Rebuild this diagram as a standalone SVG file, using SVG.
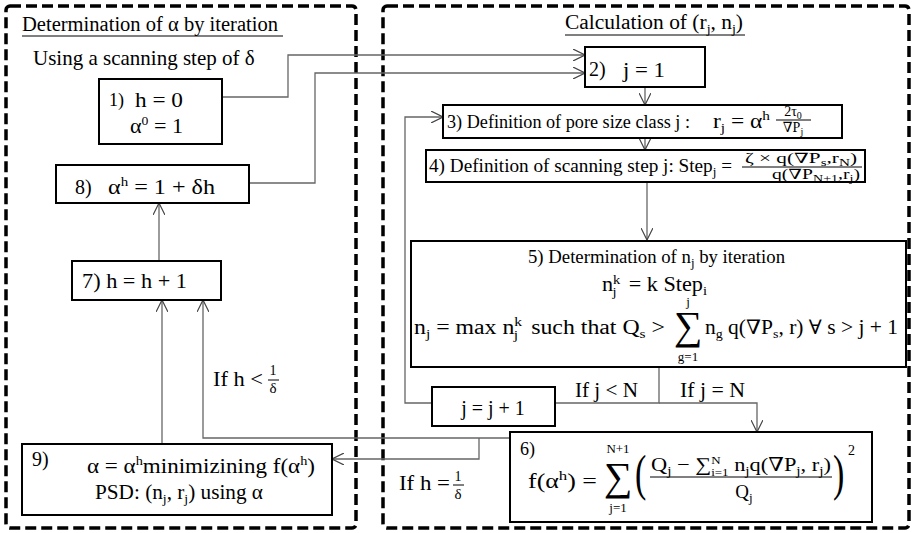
<svg xmlns="http://www.w3.org/2000/svg" width="913" height="533" viewBox="0 0 913 533" font-family="'Liberation Serif', 'DejaVu Serif', serif">
<style>
  text { font-family: 'Liberation Serif', 'DejaVu Serif', serif; fill: #000; }
  .t { font-size: 20px; }
  .m { font-size: 19px; }
  .s { font-size: 13px; }
  .f { font-size: 14px; }
  .ss { font-size: 10px; }
  .frame { fill: none; stroke: #000; stroke-width: 3.5; stroke-dasharray: 11 5; }
  .box { fill: #fff; stroke: #000; stroke-width: 2; }
  .conn { fill: none; stroke: #666; stroke-width: 1.3; }
  .ul { stroke: #000; stroke-width: 1; }
  .bar { stroke: #000; stroke-width: 1; }
</style>
<defs>
  <marker id="arr" viewBox="0 0 12 12" refX="12" refY="6" markerWidth="12" markerHeight="12" markerUnits="userSpaceOnUse" orient="auto">
    <path d="M0,0 L12,6 L0,12" fill="none" stroke="#444" stroke-width="1.2"/>
  </marker>
</defs>
<rect width="913" height="533" fill="#fff"/>

<!-- Frames -->
<g id="frame-left">
  <rect class="frame" x="6" y="6" width="350" height="522" rx="4"/>
  <text class="t" x="22" y="31" textLength="256" lengthAdjust="spacingAndGlyphs">Determination of α by iteration</text>
  <line class="ul" x1="22" y1="36" x2="283" y2="36"/>
  <text class="t" x="33" y="65" style="font-size:21px">Using a scanning step of δ</text>
</g>
<g id="frame-right">
  <rect class="frame" x="383" y="6" width="526" height="522" rx="4"/>
  <text class="t" x="565" y="29" textLength="178" lengthAdjust="spacingAndGlyphs">Calculation of (r<tspan class="s" dy="4">j</tspan><tspan dy="-4">, n</tspan><tspan class="s" dy="4">j</tspan><tspan dy="-4">)</tspan></text>
  <line class="ul" x1="565" y1="35" x2="745" y2="35"/>
</g>

<!-- Connectors -->
<g id="connectors">
  <path class="conn" d="M222,97 H288 V55 H585" marker-end="url(#arr)"/>
  <path class="conn" d="M249,183 H315 V73 H585" marker-end="url(#arr)"/>
  <path class="conn" d="M645,87 V105" marker-end="url(#arr)"/>
  <path class="conn" d="M645,138 V150" marker-end="url(#arr)"/>
  <path class="conn" d="M647,182 V240" marker-end="url(#arr)"/>
  <path class="conn" d="M659,367 V403 H555"/>
  <path class="conn" d="M659,403 H757 V432" marker-end="url(#arr)"/>
  <path class="conn" d="M432,403 H405 V117 H443" marker-end="url(#arr)"/>
  <path class="conn" d="M510,438 H203 V300" marker-end="url(#arr)"/>
  <path class="conn" d="M479,438 V459 H332" marker-end="url(#arr)"/>
  <path class="conn" d="M162,444 V300" marker-end="url(#arr)"/>
  <path class="conn" d="M159,261 V203" marker-end="url(#arr)"/>
  <text class="t" x="575" y="397" textLength="63" lengthAdjust="spacingAndGlyphs">If j &lt; N</text>
  <text class="t" x="680" y="397" textLength="65" lengthAdjust="spacingAndGlyphs">If j = N</text>
  <text class="t" x="213" y="386" textLength="50" lengthAdjust="spacingAndGlyphs">If h &lt;</text>
  <text class="f" x="273" y="375" text-anchor="middle">1</text>
  <line class="bar" x1="268" y1="380" x2="279" y2="380"/>
  <text x="273" y="393" text-anchor="middle" style="font-size:15px">δ</text>
  <text class="t" x="399" y="490" textLength="51" lengthAdjust="spacingAndGlyphs">If h =</text>
  <text class="f" x="458" y="481" text-anchor="middle">1</text>
  <line class="bar" x1="453" y1="485" x2="464" y2="485"/>
  <text x="458" y="499" text-anchor="middle" style="font-size:15px">δ</text>
</g>

<!-- Nodes -->
<g id="n1">
  <rect class="box" x="99" y="79" width="123" height="65"/>
  <text x="109" y="106" style="font-size:18px">1)</text>
  <text class="t" x="135" y="107" style="font-size:21px" textLength="48" lengthAdjust="spacingAndGlyphs">h = 0</text>
  <text class="t" x="130" y="133" style="font-size:21px" textLength="53" lengthAdjust="spacingAndGlyphs">α<tspan class="s" dy="-8">0</tspan><tspan dy="8"> = 1</tspan></text>
</g>
<g id="n8">
  <rect class="box" x="56" y="165" width="193" height="38"/>
  <text class="t" x="75" y="194">8)</text>
  <text class="t" x="108" y="194" style="font-size:21px" textLength="107" lengthAdjust="spacingAndGlyphs">α<tspan class="s" dy="-8">h</tspan><tspan dy="8"> = 1 + δh</tspan></text>
</g>
<g id="n7">
  <rect class="box" x="72" y="261" width="149" height="39"/>
  <text class="t" x="82" y="288" textLength="105" lengthAdjust="spacingAndGlyphs">7) h = h + 1</text>
</g>
<g id="n9">
  <rect class="box" x="22" y="444" width="310" height="71"/>
  <text class="t" x="32" y="466">9)</text>
  <text class="t" x="87" y="473" style="font-size:21px" textLength="228" lengthAdjust="spacingAndGlyphs">α = α<tspan class="s" dy="-8">h</tspan><tspan dy="8">minimizining f(α</tspan><tspan class="s" dy="-8">h</tspan><tspan dy="8">)</tspan></text>
  <text class="t" x="95" y="499" textLength="168" lengthAdjust="spacingAndGlyphs">PSD: (n<tspan class="s" dy="4">j</tspan><tspan dy="-4">, r</tspan><tspan class="s" dy="4">j</tspan><tspan dy="-4">) using α</tspan></text>
</g>
<g id="n2">
  <rect class="box" x="585" y="47" width="120" height="40"/>
  <text class="t" x="589" y="76">2)</text>
  <text class="t" x="623" y="77" style="font-size:21px" textLength="42" lengthAdjust="spacingAndGlyphs">j = 1</text>
</g>
<g id="n3">
  <rect class="box" x="443" y="105" width="399" height="33"/>
  <text class="m" x="447" y="128" textLength="243" lengthAdjust="spacingAndGlyphs">3) Definition of pore size class j :</text>
  <text class="t" x="713" y="128" textLength="57" lengthAdjust="spacingAndGlyphs">r<tspan class="s" dy="4">j</tspan><tspan dy="-4"> = α</tspan><tspan class="s" dy="-8">h</tspan></text>
  <text class="f" x="793" y="116" text-anchor="middle">2τ<tspan class="ss" dy="3">0</tspan></text>
  <line class="bar" x1="776" y1="120" x2="811" y2="120"/>
  <text class="f" x="793" y="132" text-anchor="middle">∇P<tspan class="ss" dy="3">j</tspan></text>
</g>
<g id="n4">
  <rect class="box" x="426" y="150" width="439" height="32"/>
  <text class="m" x="429" y="172" textLength="303" lengthAdjust="spacingAndGlyphs">4) Definition of scanning step  j:   Step<tspan class="s" dy="4">j</tspan><tspan dy="-4"> =</tspan></text>
  <text class="f" x="745" y="163" textLength="112" lengthAdjust="spacingAndGlyphs">ζ × q(∇P<tspan class="ss" dy="3">s</tspan><tspan dy="-3">,r</tspan><tspan class="ss" dy="3">N</tspan><tspan dy="-3">)</tspan></text>
  <line class="bar" x1="742" y1="167" x2="862" y2="167"/>
  <text class="f" x="772" y="179" textLength="88" lengthAdjust="spacingAndGlyphs">q(∇P<tspan class="ss" dy="3">N+1</tspan><tspan dy="-3">,r</tspan><tspan class="ss" dy="3">j</tspan><tspan dy="-3">)</tspan></text>
</g>
<g id="n5">
  <rect class="box" x="411" y="241" width="495" height="126"/>
  <text class="m" x="528" y="263" textLength="257" lengthAdjust="spacingAndGlyphs">5) Determination of n<tspan class="s" dy="4">j</tspan><tspan dy="-4"> by iteration</tspan></text>
  <text class="t" x="602" y="291" textLength="105" lengthAdjust="spacingAndGlyphs">n<tspan class="s" dy="-7">k</tspan><tspan class="s" dx="-7" dy="12">j</tspan><tspan dy="-5" dx="6"> = k Step</tspan><tspan class="s" dy="4">i</tspan></text>
  <text class="t" x="414" y="334" textLength="251" lengthAdjust="spacingAndGlyphs">n<tspan class="s" dy="4">j</tspan><tspan dy="-4"> = max  n</tspan><tspan class="s" dy="-8">k</tspan><tspan class="s" dx="-7" dy="13">j</tspan><tspan dy="-5" dx="6">  such that  Q</tspan><tspan class="s" dy="4">s</tspan><tspan dy="-4"> &gt;</tspan></text>
  <text x="688" y="339" text-anchor="middle" style="font-size:40px">∑</text>
  <text class="s" x="688" y="306" text-anchor="middle">j</text>
  <text class="s" x="688" y="361" text-anchor="middle">g=1</text>
  <text class="t" x="705" y="334" textLength="193" lengthAdjust="spacingAndGlyphs">n<tspan class="s" dy="4">g</tspan><tspan dy="-4"> q(∇P</tspan><tspan class="s" dy="4">s</tspan><tspan dy="-4">, r) ∀ s &gt; j + 1</tspan></text>
</g>
<g id="n-jinc">
  <rect class="box" x="432" y="387" width="123" height="39"/>
  <text class="t" x="493" y="415" text-anchor="middle">j = j + 1</text>
</g>
<g id="n6">
  <rect class="box" x="510" y="432" width="362" height="90"/>
  <text x="520" y="455" style="font-size:18px">6)</text>
  <text class="t" x="528" y="488" textLength="69" lengthAdjust="spacingAndGlyphs">f(α<tspan class="s" dy="-8">h</tspan><tspan dy="8">) =</tspan></text>
  <text x="618" y="490" text-anchor="middle" style="font-size:40px">∑</text>
  <text class="s" x="618" y="453" text-anchor="middle">N+1</text>
  <text class="s" x="618" y="512" text-anchor="middle">j=1</text>
  <text transform="translate(635,490) scale(1,1.5)" style="font-size:34px">(</text>
  <text class="t" x="651" y="471" style="font-size:19px" textLength="180" lengthAdjust="spacingAndGlyphs">Q<tspan class="s" dy="4">j</tspan><tspan dy="-4"> − ∑</tspan><tspan style="font-size:11px" dy="-7">N</tspan><tspan style="font-size:11px" dx="-8" dy="12">i=1</tspan><tspan dy="-5"> n</tspan><tspan class="s" dy="4">j</tspan><tspan dy="-4">q(∇P</tspan><tspan class="s" dy="4">j</tspan><tspan dy="-4">, r</tspan><tspan class="s" dy="4">j</tspan><tspan dy="-4">)</tspan></text>
  <line class="bar" x1="650" y1="477" x2="832" y2="477"/>
  <text class="t" x="744" y="498" text-anchor="middle" style="font-size:19px">Q<tspan class="s" dy="4">j</tspan></text>
  <text transform="translate(833,490) scale(1,1.5)" style="font-size:34px">)</text>
  <text class="f" x="848" y="455">2</text>
</g>
</svg>
